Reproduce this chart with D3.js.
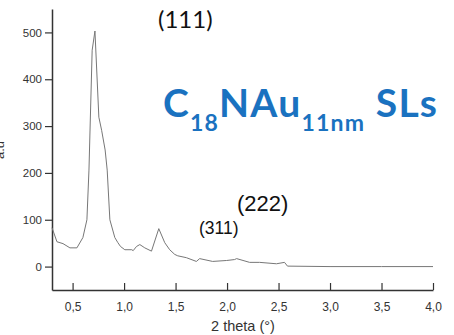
<!DOCTYPE html>
<html>
<head>
<meta charset="utf-8">
<script src="https://cdn.jsdelivr.net/npm/d3@7"></script>
<style>
  body { margin: 0; background: #fff; }
  svg { display: block; }
</style>
</head>
<body>
<div id="chart"></div>
<script>
/* XRD pattern */
var twoTheta = [0.300, 0.348, 0.407, 0.474, 0.542, 0.600, 0.639, 0.659, 0.690, 0.717,
                0.755, 0.782, 0.816, 0.836, 0.862, 0.910, 0.940, 0.965, 1.007, 1.075,
                1.088, 1.121, 1.153, 1.201, 1.266, 1.337, 1.395, 1.443, 1.492, 1.521,
                1.605, 1.702, 1.734, 1.860, 1.996, 2.073, 2.093, 2.219, 2.316, 2.480,
                2.558, 2.587, 3.000, 3.500, 4.000];
var intensity = [83, 53, 49, 40, 40, 62, 100, 206, 462, 503,
                 319, 291, 249, 206, 100, 62, 51, 43, 36, 36,
                 34, 43, 47, 40, 33, 81, 51, 36, 26, 23,
                 19, 11, 17, 11, 13, 15, 17, 9, 9, 6,
                 9, 1, 0, 0, 0];
var xTicks = [0.5, 1.0, 1.5, 2.0, 2.5, 3.0, 3.5, 4.0];
var yTicks = [0, 100, 200, 300, 400, 500];
var peakLabels = ["(111)", "(222)", "(311)"];

var W = 454, H = 335,
    m = { left: 52, right: 21, top: 9, bottom: 45 };

var svg = d3.select("#chart").append("svg")
    .attr("width", W).attr("height", H);

var x = d3.scaleLinear().domain([0.3, 4.0]).range([m.left, W - m.right]),
    y = d3.scaleLinear().domain([-50, 550]).range([H - m.bottom, m.top]);

var fmt = function(d){ return d3.format(".1f")(d).replace(".", ","); };

/* axes: major + minor ticks */
var gx = svg.append("g").attr("transform", "translate(0," + (H - m.bottom) + ")");
gx.call(d3.axisBottom(x).tickValues(d3.range(0.5, 4.01, 0.25)).tickSize(-4).tickFormat(""));
gx.call(d3.axisBottom(x).tickValues(xTicks).tickSize(-7).tickPadding(19).tickSizeOuter(0).tickFormat(fmt));

var gy = svg.append("g").attr("transform", "translate(" + m.left + ",0)");
gy.call(d3.axisLeft(y).tickValues(d3.range(-50, 551, 50)).tickSize(-4).tickFormat(""));
gy.call(d3.axisLeft(y).tickValues(yTicks).tickSize(7).tickPadding(3).tickSizeOuter(0));

svg.selectAll(".domain").attr("stroke", "#333").attr("stroke-width", 1.5);
svg.selectAll(".tick line").attr("stroke", "#333").attr("stroke-width", 1.2);
svg.selectAll(".tick text").attr("fill", "#333")
    .style("font-family", "'Liberation Sans', Arial, sans-serif").style("font-size", "11.5px");
gx.selectAll(".tick text").attr("dy", "0.2em").style("font-size", "12px");

/* the pattern */
var pts = twoTheta.map(function(t, i){ return [t, intensity[i]]; });
svg.append("path")
    .datum(pts)
    .attr("fill", "none")
    .attr("stroke", "#777")
    .attr("stroke-width", 1)
    .attr("d", d3.line().x(function(d){ return x(d[0]); }).y(function(d){ return y(d[1]); }));

/* axis titles */
svg.append("text")
    .attr("x", 243).attr("y", 331)
    .attr("text-anchor", "middle")
    .attr("fill", "#333")
    .style("font-family", "'Liberation Sans', Arial, sans-serif").style("font-size", "14.5px")
    .text("2 theta (°)");

svg.append("text")
    .attr("transform", "translate(4,150) rotate(-90)")
    .attr("text-anchor", "middle")
    .attr("fill", "#333")
    .style("font-family", "'Liberation Sans', Arial, sans-serif").style("font-size", "13px")
    .text("a.u");

/* peak labels */
svg.append("text").attr("x", 158).attr("y", 28)
    .style("font-family", "Lato, sans-serif").style("font-size", "24px").attr("fill", "#111")
    .text(peakLabels[0]);
svg.append("text").attr("x", 237).attr("y", 211)
    .style("font-family", "'Liberation Sans', Arial, sans-serif").style("font-size", "22px").attr("fill", "#111")
    .text(peakLabels[1]);
svg.append("text").attr("x", 199).attr("y", 234)
    .style("font-family", "'Liberation Sans', Arial, sans-serif").style("font-size", "17.5px").attr("fill", "#111")
    .text(peakLabels[2]);

/* sample title */
var title = svg.append("text").attr("x", 163).attr("y", 117)
    .style("font-family", "Lato, sans-serif").style("font-weight", "bold")
    .style("font-size", "39px").style("letter-spacing", "1.2px").attr("fill", "#1a72c0");
title.append("tspan").text("C");
title.append("tspan").attr("dy", 14).style("font-size", "23px").text("18");
title.append("tspan").attr("dy", -14).text("NAu");
title.append("tspan").attr("dy", 14).style("font-size", "23px").text("11nm");
title.append("tspan").attr("dy", -14).text(" SLs");
</script>
</body>
</html>
